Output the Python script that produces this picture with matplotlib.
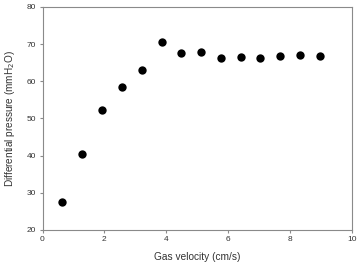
import numpy as np
import matplotlib
matplotlib.use("Agg")
import matplotlib.pyplot as plt

plt.rcParams["font.family"] = ["Liberation Sans", "DejaVu Sans"]

gas_velocity = [0.64, 1.29, 1.93, 2.57, 3.21, 3.86, 4.47, 5.13,
                5.77, 6.40, 7.04, 7.67, 8.33, 8.97]
diff_pressure = [27.4, 40.4, 52.4, 58.5, 63.1, 70.7, 67.5, 67.8,
                 66.4, 66.5, 66.4, 66.7, 67.0, 66.9]

AXIS_GRAY = "#8a8a8a"
TEXT_GRAY = "#333333"

fig = plt.figure(figsize=(3.59, 2.63), dpi=100)
ax = fig.add_axes([42.5 / 359, 1 - 230 / 263, (352 - 42.5) / 359, (230 - 7) / 263])

ax.plot(gas_velocity, diff_pressure, "o", color="black", markersize=6,
        markeredgewidth=0)

ax.set_xlim(0, 10)
ax.set_ylim(20, 80)
ax.set_xticks(np.arange(0, 11, 2))
ax.set_yticks(np.arange(20, 81, 10))

for sp in ax.spines.values():
    sp.set_color(AXIS_GRAY)
    sp.set_linewidth(0.8)

ax.tick_params(direction="out", length=2.5, width=0.8, color=AXIS_GRAY,
               labelsize=6, labelcolor=TEXT_GRAY, pad=2)

ax.set_xlabel("Gas velocity (cm/s)", fontsize=7.3, color=TEXT_GRAY, labelpad=6)
ax.set_ylabel("Differential pressure (mmH$_2$O)", fontsize=7.2,
              color=TEXT_GRAY, labelpad=7)

fig.savefig("out.png", dpi=100)
